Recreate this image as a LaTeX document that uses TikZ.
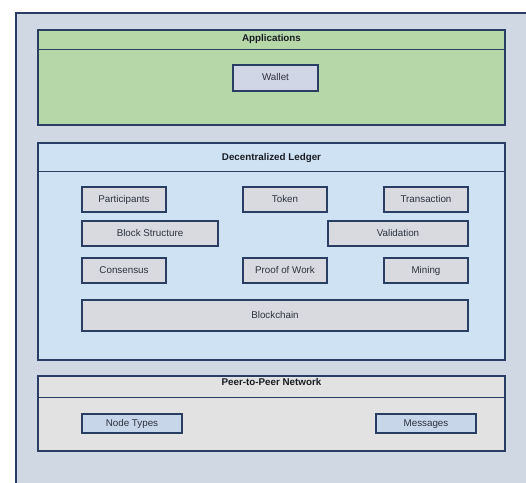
\documentclass[tikz,border=0pt]{standalone}
\usepackage{fontspec}
\setmainfont{Liberation Sans}
\definecolor{outerbg}{RGB}{208,216,228}
\definecolor{edge}{RGB}{42,62,100}
\definecolor{appgreen}{RGB}{182,215,168}
\definecolor{ledgerblue}{RGB}{207,226,243}
\definecolor{boxgray}{RGB}{216,218,224}
\definecolor{walletfill}{RGB}{208,214,230}
\definecolor{p2pgray}{RGB}{226,226,226}
\definecolor{nodefill}{RGB}{200,214,234}
\definecolor{labeltext}{RGB}{45,50,60}
\definecolor{titletext}{RGB}{25,28,35}
\begin{document}
\begin{tikzpicture}[x=1pt,y=-1pt,
  container/.style={draw=edge, line width=1.5pt, rectangle, inner sep=0pt},
  divider/.style={draw=edge, line width=1.5pt},
  ttl/.style={font=\fontsize{9.8}{11}\selectfont\bfseries, text=titletext, inner sep=0pt,
    text height=7pt, text depth=2pt},
  item/.style={draw=edge, line width=1.6pt, rectangle, inner sep=0pt, fill=boxgray,
    font=\fontsize{9.8}{11}\selectfont, text=labeltext, text height=7pt, text depth=2pt}]
\useasboundingbox (0,0) rectangle (526,482);
\clip (0,0) rectangle (526,482);
\fill[white] (0,0) rectangle (526,482);
\draw[fill=outerbg, draw=edge, line width=1.5pt] (16,13) rectangle (545,500);

% Applications
\node[container, fill=appgreen, minimum width=467pt, minimum height=95pt] (apps) at (271.5,77.5) {};
\draw[divider] ([yshift=-20pt]apps.north west) -- ([yshift=-20pt]apps.north east);
\node[ttl] (appsT) at (271.5,38.5) {Applications};
\node[item, fill=walletfill, minimum width=85pt, minimum height=26pt] (wallet) at (275.5,78) {Wallet};

% Decentralized Ledger
\node[container, fill=ledgerblue, minimum width=467pt, minimum height=217pt] (ledger) at (271.5,251.5) {};
\draw[divider] ([yshift=-29pt]ledger.north west) -- ([yshift=-29pt]ledger.north east);
\node[ttl] (ledgerT) at (271.5,158) {Decentralized Ledger};
\node[item, minimum width=84pt, minimum height=25pt] (participants) at (124,199.5) {Participants};
\node[item, minimum width=84pt, minimum height=25pt] (token) at (285,199.5) {Token};
\node[item, minimum width=84pt, minimum height=25pt] (transaction) at (426,199.5) {Transaction};
\node[item, minimum width=136pt, minimum height=25pt] (blockstruct) at (150,233.5) {Block Structure};
\node[item, minimum width=140pt, minimum height=25pt] (validation) at (398,233.5) {Validation};
\node[item, minimum width=84pt, minimum height=25pt] (consensus) at (124,270.5) {Consensus};
\node[item, minimum width=84pt, minimum height=25pt] (pow) at (285,270.5) {Proof of Work};
\node[item, minimum width=84pt, minimum height=25pt] (mining) at (426,270.5) {Mining};
\node[item, minimum width=386pt, minimum height=31pt] (blockchain) at (275,315.5) {Blockchain};

% Peer-to-Peer Network
\node[container, fill=p2pgray, minimum width=467pt, minimum height=75pt] (p2p) at (271.5,413.5) {};
\draw[divider] ([yshift=-22pt]p2p.north west) -- ([yshift=-22pt]p2p.north east);
\node[ttl] (p2pT) at (271.5,383) {Peer-to-Peer Network};
\node[item, fill=nodefill, minimum width=100pt, minimum height=19pt] (nodetypes) at (132,423.5) {Node Types};
\node[item, fill=nodefill, minimum width=100pt, minimum height=19pt] (messages) at (426,423.5) {Messages};
\end{tikzpicture}
\end{document}
